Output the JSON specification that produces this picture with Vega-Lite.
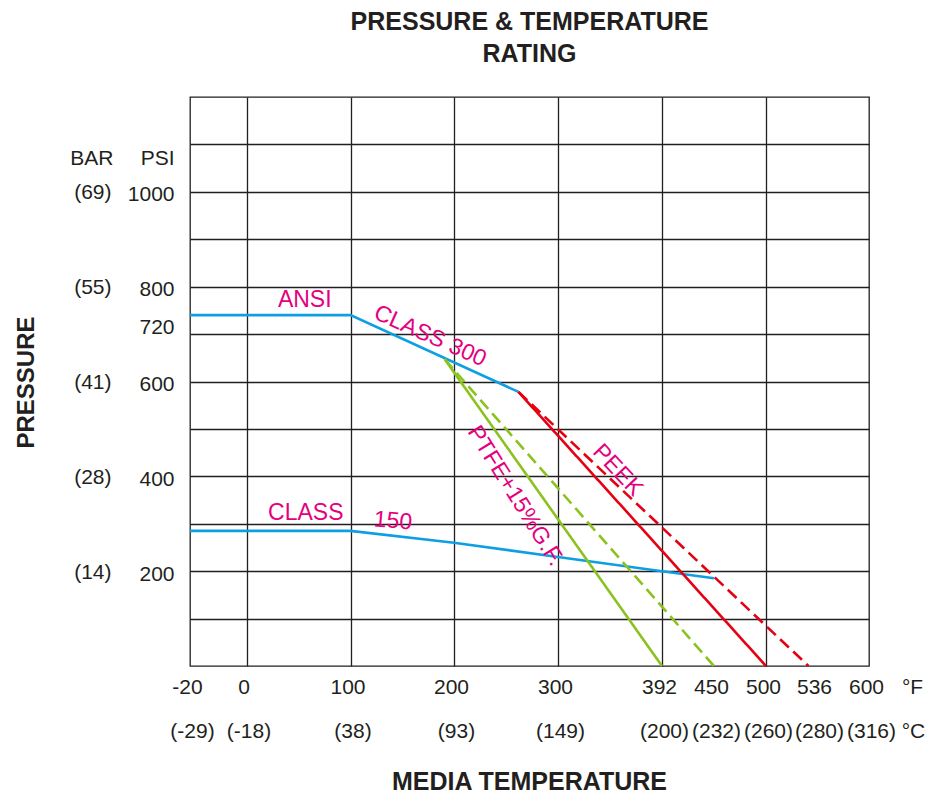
{
  "$schema": "https://vega.github.io/schema/vega-lite/v6.json",
  "width": 679,
  "height": 569,
  "autosize": {"type": "none"},
  "padding": {"left": 190, "top": 97, "right": 59, "bottom": 131},
  "background": "white",
  "title": {"text": ["PRESSURE & TEMPERATURE", "RATING"]},
  "config": {
    "font": "Liberation Sans",
    "view": {"stroke": "#231f20", "strokeWidth": 1.3},
    "title": {"font": "Liberation Sans", "fontSize": 25, "fontWeight": "bold", "color": "#231f20", "lineHeight": 32, "offset": 30, "anchor": "middle"},
    "axis": {
      "domain": false, "ticks": false, "tickSize": 0, "grid": false,
      "labelFont": "Liberation Sans", "labelFontSize": 21, "labelColor": "#231f20",
      "labelOverlap": false, "labelFlush": false, "labelBound": false,
      "titleFont": "Liberation Sans", "titleColor": "#231f20", "titleFontSize": 21, "titleFontWeight": "normal",
      "gridColor": "#231f20", "gridWidth": 1.3, "gridOpacity": 1
    }
  },
  "datasets": {
    "curves": [
      {"series": "CLASS 150", "temp": -20, "psi": 285},
      {"series": "CLASS 150", "temp": 100, "psi": 285},
      {"series": "CLASS 150", "temp": 200, "psi": 260},
      {"series": "CLASS 150", "temp": 300, "psi": 230},
      {"series": "CLASS 150", "temp": 392, "psi": 200},
      {"series": "CLASS 150", "temp": 450, "psi": 185},
      {"series": "CLASS 300", "temp": -20, "psi": 740},
      {"series": "CLASS 300", "temp": 100, "psi": 740},
      {"series": "CLASS 300", "temp": 262, "psi": 578}
    ],
    "seats": [
      {"series": "PTFE standard", "seat": "PTFE+15%G.F.", "limit": "standard", "temp": 191, "psi": 647},
      {"series": "PTFE standard", "seat": "PTFE+15%G.F.", "limit": "standard", "temp": 392, "psi": 0},
      {"series": "PTFE extended", "seat": "PTFE+15%G.F.", "limit": "extended", "temp": 191, "psi": 647},
      {"series": "PTFE extended", "seat": "PTFE+15%G.F.", "limit": "extended", "temp": 450, "psi": 0},
      {"series": "PEEK standard", "seat": "PEEK", "limit": "standard", "temp": 262, "psi": 578},
      {"series": "PEEK standard", "seat": "PEEK", "limit": "standard", "temp": 500, "psi": 0},
      {"series": "PEEK extended", "seat": "PEEK", "limit": "extended", "temp": 262, "psi": 578},
      {"series": "PEEK extended", "seat": "PEEK", "limit": "extended", "temp": 530, "psi": 0}
    ],
    "notes": [
      {"label": "ANSI", "temp": 56, "psi": 772, "angle": 0},
      {"label": "CLASS 300", "temp": 177, "psi": 696, "angle": 24},
      {"label": "PTFE+15%G.F.", "temp": 259, "psi": 359, "angle": 58},
      {"label": "PEEK", "temp": 353, "psi": 413, "angle": 47},
      {"label": "CLASS", "temp": 57, "psi": 322, "angle": 0},
      {"label": "150", "temp": 141, "psi": 306, "angle": 5}
    ]
  },
  "resolve": {"axis": {"x": "independent", "y": "independent"}},
  "layer": [
    {
      "data": {"name": "curves"},
      "mark": {"type": "line", "color": "#0e9fe2", "strokeWidth": 2.6},
      "encoding": {
        "detail": {"field": "series"},
        "x": {
          "field": "temp", "type": "quantitative",
          "scale": {"domain": [-20, 0, 100, 200, 300, 392, 450, 500, 536, 600], "range": [0, 56.5, 160.5, 264, 368, 472, 524, 576, 627, 679], "nice": false, "zero": false},
          "axis": {
            "orient": "bottom", "values": [0, 100, 200, 300, 392, 500], "grid": true, "labels": false,
            "title": "MEDIA TEMPERATURE", "titleFontSize": 25, "titleFontWeight": "bold",
            "titleX": 339, "titleY": 115, "titleAlign": "center", "titleBaseline": "middle"
          }
        },
        "y": {
          "field": "psi", "type": "quantitative",
          "scale": {"domain": [0, 1200], "nice": false, "zero": false},
          "axis": {
            "orient": "left", "values": [100, 200, 300, 400, 500, 600, 700, 800, 900, 1000, 1100], "grid": true, "labels": false,
            "title": "PRESSURE", "titleFontSize": 24, "titleFontWeight": "bold", "titleAngle": 270,
            "titleX": -164, "titleY": 285, "titleAlign": "center", "titleBaseline": "middle"
          }
        }
      }
    },
    {
      "data": {"name": "seats"},
      "mark": {"type": "line", "strokeWidth": 2.6},
      "encoding": {
        "detail": {"field": "series"},
        "x": {
          "field": "temp", "type": "quantitative",
          "axis": {
            "orient": "bottom", "values": [-20, 0, 100, 200, 300, 392, 450, 500, 536, 600],
            "labelExpr": "'' + datum.value",
            "labelPadding": 21, "labelBaseline": "middle", "labelOffset": -3,
            "title": "°F", "titleX": 722, "titleY": 21, "titleAlign": "center", "titleBaseline": "middle"
          }
        },
        "y": {
          "field": "psi", "type": "quantitative",
          "axis": {
            "orient": "left", "values": [200, 400, 600, 720, 800, 1000],
            "labelExpr": "'' + datum.value",
            "labelPadding": 16, "labelBaseline": "middle", "labelOffset": 3,
            "title": "PSI", "titleAngle": 0, "titleX": -16, "titleY": 61, "titleAlign": "right", "titleBaseline": "middle"
          }
        },
        "color": {
          "field": "seat", "type": "nominal",
          "scale": {"domain": ["PTFE+15%G.F.", "PEEK"], "range": ["#8cc220", "#e50013"]},
          "legend": null
        },
        "strokeDash": {
          "field": "limit", "type": "nominal",
          "scale": {"domain": ["standard", "extended"], "range": [[1, 0], [12, 6]]},
          "legend": null
        }
      }
    },
    {
      "data": {"name": "notes"},
      "mark": {"type": "text", "color": "#e4007f", "fontSize": 23, "align": "center", "baseline": "middle"},
      "encoding": {
        "text": {"field": "label"},
        "angle": {"field": "angle", "type": "quantitative", "scale": null},
        "x": {
          "field": "temp", "type": "quantitative",
          "axis": {
            "orient": "bottom", "values": [-20, 0, 100, 200, 300, 392, 450, 500, 536, 600],
            "labelExpr": "datum.value == -20 ? '(-29)' : datum.value == 0 ? '(-18)' : datum.value == 100 ? '(38)' : datum.value == 200 ? '(93)' : datum.value == 300 ? '(149)' : datum.value == 392 ? '(200)' : datum.value == 450 ? '(232)' : datum.value == 500 ? '(260)' : datum.value == 536 ? '(280)' : '(316)'",
            "labelPadding": 65, "labelBaseline": "middle", "labelOffset": 2,
            "title": "°C", "titleX": 723, "titleY": 65, "titleAlign": "center", "titleBaseline": "middle"
          }
        },
        "y": {
          "field": "psi", "type": "quantitative",
          "axis": {
            "orient": "left", "values": [200, 400, 600, 800, 1000],
            "labelExpr": "datum.value == 200 ? '(14)' : datum.value == 400 ? '(28)' : datum.value == 600 ? '(41)' : datum.value == 800 ? '(55)' : '(69)'",
            "labelPadding": 79, "labelBaseline": "middle", "labelOffset": 1,
            "title": "BAR", "titleAngle": 0, "titleX": -77, "titleY": 61, "titleAlign": "right", "titleBaseline": "middle"
          }
        }
      }
    }
  ]
}
